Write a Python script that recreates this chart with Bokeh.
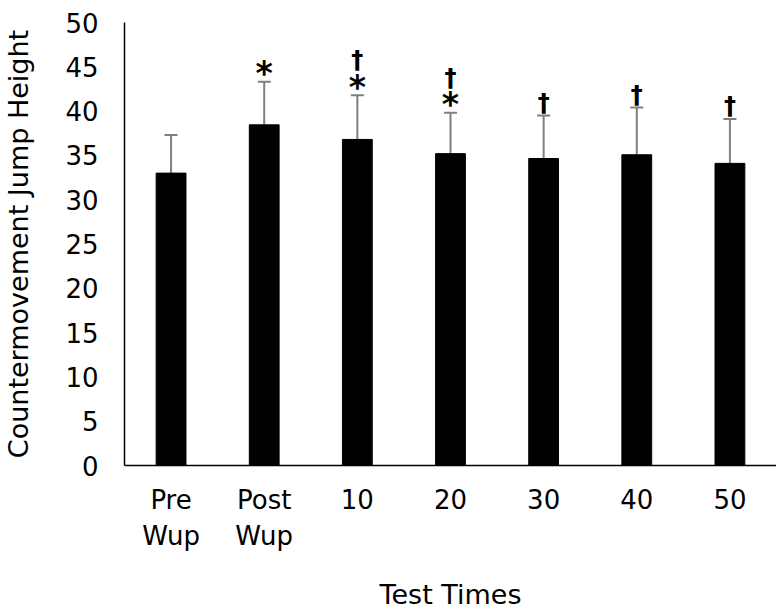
from bokeh.plotting import figure
from bokeh.models import Range1d, FactorRange, Whisker, ColumnDataSource, TeeHead
from bokeh.core.properties import value
from bokeh.embed import file_html
from bokeh.resources import INLINE

categories = ["Pre\nWup", "Post\nWup", "10", "20", "30", "40", "50"]
means = [33.0, 38.45, 36.8, 35.2, 34.65, 35.07, 34.1]
sds = [4.3, 4.85, 5.0, 4.6, 4.85, 5.33, 5.0]
star_flags = [0, 1, 1, 1, 0, 0, 0]
dagger_flags = [0, 0, 1, 1, 1, 1, 1]
y_ticks = [0, 5, 10, 15, 20, 25, 30, 35, 40, 45, 50]

FONT = "DejaVu Sans"

p = figure(width=776, height=612, output_backend="svg", toolbar_location=None,
           x_range=FactorRange(*categories, range_padding=0),
           y_range=Range1d(0, 50),
           min_border_left=124, min_border_right=0, min_border_top=22, min_border_bottom=147)
p.outline_line_color = None
p.xgrid.grid_line_color = None
p.ygrid.grid_line_color = None
p.background_fill_color = "white"
p.border_fill_color = "white"

upper = [m + s for m, s in zip(means, sds)]
src = ColumnDataSource(dict(x=categories, top=means, upper=upper))
p.vbar(x="x", top="top", width=0.32, source=src, fill_color="black", line_color="black")

w = Whisker(source=src, base="x", upper="upper", lower="top",
            line_color="#7f7f7f", line_width=2,
            upper_head=TeeHead(size=13, line_color="#7f7f7f", line_width=2),
            lower_head=None)
p.add_layout(w)

# significance markers
sx, sy = [], []
dx, dy, doff = [], [], []
for c, u, s, d in zip(categories, upper, star_flags, dagger_flags):
    if s:
        sx.append(c); sy.append(u)
    if d:
        dx.append(c); dy.append(u); doff.append(-35 if s else -13)
p.text(x=sx, y=sy, text=["*"] * len(sx), text_font=value(FONT), text_font_style="bold",
       text_font_size="33px", text_align="center", text_baseline="middle", y_offset=-8,
       text_color="black")
p.text(x=dx, y=dy, text=["†"] * len(dx), y_offset=doff, text_font=value(FONT),
       text_font_style="bold", text_font_size="24px", text_align="center",
       text_baseline="middle", text_color="black")

for ax in (p.xaxis[0], p.yaxis[0]):
    ax.axis_line_color = "black"
    ax.axis_line_width = 1.5
    ax.major_tick_line_color = None
    ax.minor_tick_line_color = None
    ax.major_tick_in = 0
    ax.major_tick_out = 0
    ax.major_label_text_font = FONT
    ax.major_label_text_font_size = "26px"
    ax.major_label_text_color = "black"
    ax.axis_label_text_font = FONT
    ax.axis_label_text_font_style = "normal"
    ax.axis_label_text_font_size = "27px"
    ax.axis_label_text_color = "black"

p.yaxis.ticker = y_ticks
p.yaxis.major_label_standoff = 26
p.yaxis.axis_label = "Countermovement Jump Height"
p.yaxis.axis_label_standoff = 28
p.xaxis.major_label_standoff = 19
p.xaxis.axis_label = "Test Times"
p.xaxis.axis_label_standoff = 25

open("out.html", "w").write(file_html(p, INLINE))
